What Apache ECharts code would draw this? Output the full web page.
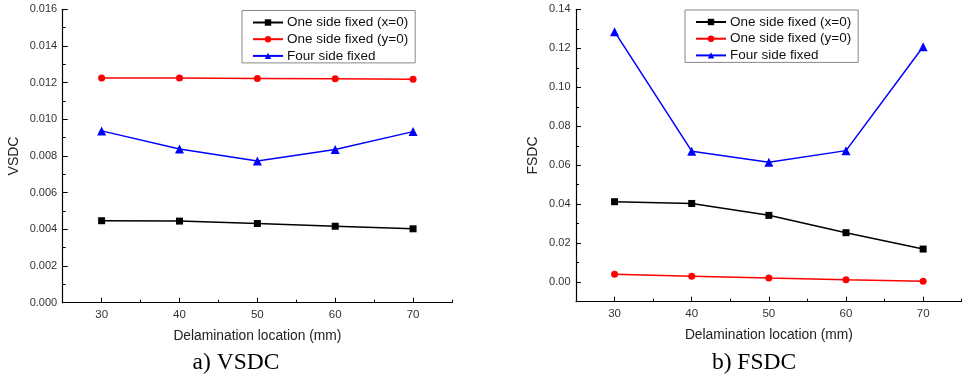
<!DOCTYPE html>
<html>
<head>
<meta charset="utf-8">
<script src="https://cdn.jsdelivr.net/npm/echarts@6/dist/echarts.min.js"></script>
<style>
html,body{margin:0;padding:0;background:#fff;}
#c{width:962px;height:378px;}
</style>
</head>
<body>
<div id="c"></div>
<script>
// ---- data ----
const locations = [30, 40, 50, 60, 70];
const seriesNames = ['One side fixed (x=0)', 'One side fixed (y=0)', 'Four side fixed'];
const vsdcX0 = [0.00447, 0.00445, 0.00432, 0.00417, 0.00403];
const vsdcY0 = [0.01226, 0.01225, 0.01223, 0.01221, 0.01218];
const vsdcFour = [0.00937, 0.00838, 0.00773, 0.00835, 0.00933];
const fsdcX0 = [0.0413, 0.0404, 0.0343, 0.0254, 0.0170];
const fsdcY0 = [0.0041, 0.0031, 0.0021, 0.0012, 0.0005];
const fsdcFour = [0.1285, 0.0672, 0.0615, 0.0675, 0.1208];
const xTickLabels = [30, 40, 50, 60, 70];
const vsdcTickLabels = [0, 0.002, 0.004, 0.006, 0.008, 0.010, 0.012, 0.014, 0.016];
const fsdcTickLabels = [0, 0.02, 0.04, 0.06, 0.08, 0.10, 0.12, 0.14];
const captions = ['a) VSDC', 'b) FSDC'];
const yNames = ['VSDC', 'FSDC'];
const xName = 'Delamination location (mm)';

// ---- styling ----
const colors = ['#000000', '#ff0000', '#0000ff'];
const symbols = ['rect', 'circle', 'triangle'];
const symbolSizes = [7, 7, 9];
const labelColor = '#333';
const font = 'Arial, "Liberation Sans", sans-serif';
const serif = '"Times New Roman", "Liberation Serif", serif';

function pairs(vals) { return locations.map((x, i) => [x, vals[i]]); }

function mainX(grid) {
  return {
    type: 'value', gridIndex: grid, min: 25, max: 75, position: 'bottom',
    name: xName, nameLocation: 'middle', nameGap: 26,
    nameTextStyle: { fontSize: 13.8, color: '#222', fontFamily: font },
    axisLine: { show: true, onZero: false, lineStyle: { color: '#000', width: 1.2 } },
    axisTick: { show: true, inside: true, length: 5, customValues: xTickLabels, lineStyle: { color: '#000' } },
    axisLabel: { customValues: xTickLabels, margin: 6, fontSize: 11.5, color: labelColor, fontFamily: font },
    splitLine: { show: false }
  };
}
function minorX(grid) {
  return {
    type: 'value', gridIndex: grid, min: 25, max: 75, interval: 5, position: 'bottom',
    axisLine: { show: false, onZero: false },
    axisTick: { show: true, inside: true, length: 3, lineStyle: { color: '#000' } },
    axisLabel: { show: false }, splitLine: { show: false }
  };
}
function legendAt(left, top) {
  return {
    data: seriesNames, orient: 'vertical', left: left, top: top,
    itemWidth: 30, itemHeight: 8, itemGap: 2.7,
    padding: [5, 7, 0, 10], borderColor: '#888', borderWidth: 1, backgroundColor: '#fff',
    textStyle: { fontSize: 13.5, lineHeight: 14, color: '#111', fontFamily: font, padding: [0, 0, 0, -1] }
  };
}

const option = {
  backgroundColor: '#ffffff',
  animation: false,
  title: [
    { text: captions[0], left: 231, top: 346, textAlign: 'center',
      textStyle: { fontFamily: serif, fontWeight: 'normal', fontSize: 23.5, color: '#000' } },
    { text: captions[1], left: 749, top: 346, textAlign: 'center',
      textStyle: { fontFamily: serif, fontWeight: 'normal', fontSize: 23.5, color: '#000' } }
  ],
  legend: [legendAt(242, 10.5), legendAt(685, 10)],
  grid: [
    { left: 62.7, top: 9.3, width: 389.3, height: 293.4 },
    { left: 576, top: 9.3, width: 385.7, height: 292.4 }
  ],
  xAxis: [mainX(0), minorX(0), mainX(1), minorX(1)],
  yAxis: [
    { type: 'value', gridIndex: 0, min: 0, max: 0.016, interval: 0.002, position: 'left',
      name: yNames[0], nameLocation: 'middle', nameGap: 42,
      nameTextStyle: { fontSize: 14, color: '#222', fontFamily: font },
      axisLine: { show: true, lineStyle: { color: '#000', width: 1.2 } },
      axisTick: { show: true, inside: true, length: 5, lineStyle: { color: '#000' } },
      minorTick: { show: true, splitNumber: 2, length: 3, lineStyle: { color: '#000' } },
      axisLabel: { margin: 5.5, fontSize: 11, color: labelColor, fontFamily: font, formatter: v => v.toFixed(3) },
      splitLine: { show: false }, minorSplitLine: { show: false } },
    { type: 'value', gridIndex: 1, min: -0.01, max: 0.14, position: 'left',
      name: yNames[1], nameLocation: 'middle', nameGap: 35.5,
      nameTextStyle: { fontSize: 14, color: '#222', fontFamily: font },
      axisLine: { show: true, lineStyle: { color: '#000', width: 1.2 } },
      axisTick: { show: true, inside: true, length: 5, customValues: fsdcTickLabels, lineStyle: { color: '#000' } },
      axisLabel: { customValues: fsdcTickLabels, margin: 5.5, fontSize: 11, color: labelColor, fontFamily: font, formatter: v => v.toFixed(2) },
      splitLine: { show: false } },
    { type: 'value', gridIndex: 1, min: -0.01, max: 0.14, interval: 0.01, position: 'left',
      axisLine: { show: false },
      axisTick: { show: true, inside: true, length: 3, lineStyle: { color: '#000' } },
      axisLabel: { show: false }, splitLine: { show: false } }
  ],
  series: []
};

const leftData = [vsdcX0, vsdcY0, vsdcFour];
const rightData = [fsdcX0, fsdcY0, fsdcFour];
seriesNames.forEach((name, i) => {
  option.series.push({
    name, type: 'line', xAxisIndex: 0, yAxisIndex: 0, data: pairs(leftData[i]),
    symbol: symbols[i], symbolSize: symbolSizes[i],
    lineStyle: { color: colors[i], width: 1.5 }, itemStyle: { color: colors[i] }
  });
});
seriesNames.forEach((name, i) => {
  option.series.push({
    name, type: 'line', xAxisIndex: 2, yAxisIndex: 1, data: pairs(rightData[i]),
    symbol: symbols[i], symbolSize: symbolSizes[i],
    lineStyle: { color: colors[i], width: 1.5 }, itemStyle: { color: colors[i] }
  });
});

const chart = echarts.init(document.getElementById('c'), null, { renderer: 'canvas' });
chart.setOption(option);
</script>
</body>
</html>
